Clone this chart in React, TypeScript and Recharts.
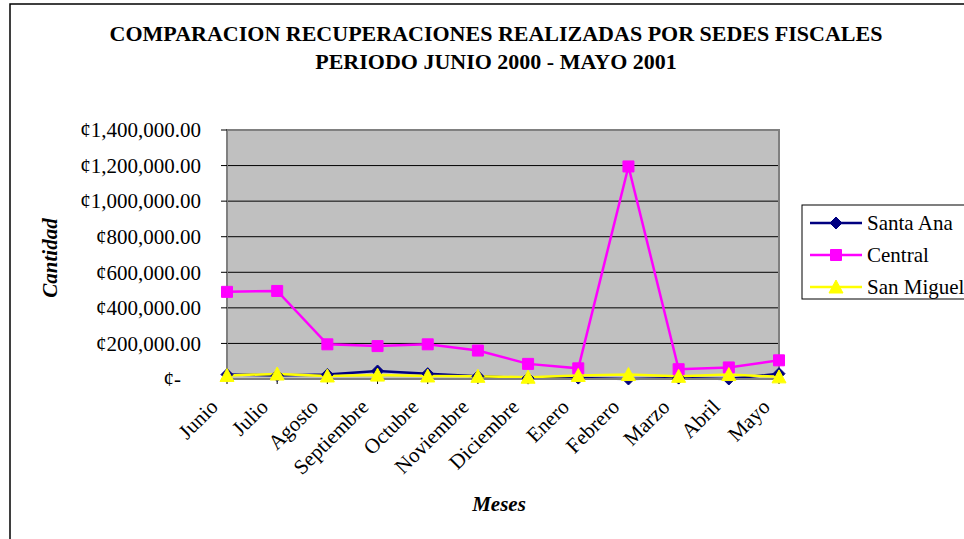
import React from 'react';
import { LineChart, Line, XAxis, YAxis, CartesianGrid, ReferenceArea } from 'recharts';

const meses = ['Junio', 'Julio', 'Agosto', 'Septiembre', 'Octubre', 'Noviembre', 'Diciembre', 'Enero', 'Febrero', 'Marzo', 'Abril', 'Mayo'];
const santaAna = [25000, 20000, 25000, 45000, 30000, 15000, 5000, 5000, 0, 5000, 0, 30000];
const central = [490000, 495000, 195000, 185000, 195000, 160000, 85000, 60000, 1195000, 55000, 65000, 105000];
const sanMiguel = [20000, 28000, 17000, 22000, 17000, 15000, 10000, 20000, 25000, 15000, 25000, 12000];
const yTicks = [0, 200000, 400000, 600000, 800000, 1000000, 1200000, 1400000];

const titleLines = ['COMPARACION RECUPERACIONES REALIZADAS POR SEDES FISCALES', 'PERIODO JUNIO 2000 - MAYO 2001'];

const data = meses.map((m, i) => ({ mes: m, santaAna: santaAna[i], central: central[i], sanMiguel: sanMiguel[i] }));

const FONT = '"Liberation Serif", "Times New Roman", Times, serif';

type Shape = 'diamond' | 'square' | 'triangle';
const series: { key: string; name: string; color: string; shape: Shape }[] = [
  { key: 'santaAna', name: 'Santa Ana', color: '#000080', shape: 'diamond' },
  { key: 'central', name: 'Central', color: '#FF00FF', shape: 'square' },
  { key: 'sanMiguel', name: 'San Miguel', color: '#FFFF00', shape: 'triangle' },
];

function markerPath(shape: Shape, cx: number, cy: number): string {
  if (shape === 'diamond') return `M${cx},${cy - 6}L${cx + 6},${cy}L${cx},${cy + 6}L${cx - 6},${cy}Z`;
  if (shape === 'square') return `M${cx - 5.5},${cy - 5.5}h11v11h-11Z`;
  return `M${cx},${cy - 7}L${cx + 7},${cy + 6}L${cx - 7},${cy + 6}Z`;
}

const makeDot = (shape: Shape, color: string) => (props: any) => {
  const { cx, cy, index } = props;
  if (cx == null || cy == null) return <g key={`d-${index}`} />;
  return <path key={`d-${shape}-${index}`} d={markerPath(shape, cx, cy)} fill={color} stroke={color} strokeWidth={1} />;
};

const fmt = (v: number) => {
  if (v === 0) return '¢-';
  return '¢' + v.toLocaleString('en-US', { minimumFractionDigits: 2, maximumFractionDigits: 2 });
};

const YTick = (props: any) => {
  const { x, y, payload } = props;
  const v = payload.value as number;
  return (
    <text x={v === 0 ? x - 38 : x - 18} y={y} dy="0.35em" textAnchor="end" fontFamily={FONT} fontSize={21} fill="#000">
      {fmt(v)}
    </text>
  );
};

const XTick = (props: any) => {
  const { x, y, payload } = props;
  const ax = x - 13;
  const ay = y + 17;
  return (
    <text x={ax} y={ay} dy="0.35em" textAnchor="end" transform={`rotate(-45, ${ax}, ${ay})`} fontFamily={FONT} fontSize={21} fill="#000">
      {payload.value}
    </text>
  );
};

export default function App() {
  return (
    <div style={{ position: 'absolute', left: 0, top: 0, width: 964, height: 539, background: '#fff', overflow: 'hidden' }}>
      <LineChart width={964} height={539} data={data} margin={{ top: 130, right: 185, bottom: 0, left: 0 }}>
        <CartesianGrid vertical={false} stroke="#000" strokeWidth={1} fill="#C0C0C0" fillOpacity={1} />
        <ReferenceArea x1="Junio" x2="Mayo" y1={0} y2={1400000} fill="none" stroke="#808080" strokeWidth={2} ifOverflow="visible" />
        <XAxis
          dataKey="mes"
          scale="point"
          padding={{ left: 0, right: 0 }}
          height={160}
          interval={0}
          tickSize={5}
          tickLine={{ stroke: '#000' }}
          axisLine={{ stroke: '#808080', strokeWidth: 2 }}
          tick={<XTick />}
        />
        <YAxis
          width={227}
          domain={[0, 1400000]}
          ticks={yTicks}
          interval={0}
          tickSize={6}
          tickLine={{ stroke: '#000' }}
          axisLine={{ stroke: '#808080', strokeWidth: 2 }}
          tick={<YTick />}
        />
        {series.map((s) => (
          <Line
            key={s.key}
            type="linear"
            dataKey={s.key}
            name={s.name}
            stroke={s.color}
            strokeWidth={2.5}
            dot={makeDot(s.shape, s.color)}
            activeDot={false}
            isAnimationActive={false}
          />
        ))}
      </LineChart>
      <svg width={964} height={539} style={{ position: 'absolute', left: 0, top: 0, pointerEvents: 'none' }}>
        <rect x={10} y={4} width={1000} height={600} fill="none" stroke="#000" strokeWidth={1.5} />
        {titleLines.map((t, i) => (
          <text key={t} x={496} y={33 + i * 28} dy="0.35em" textAnchor="middle" fontFamily={FONT} fontSize={22} fontWeight="bold" fill="#000">
            {t}
          </text>
        ))}
        <text x={50} y={258} dy="0.35em" textAnchor="middle" transform="rotate(-90, 50, 258)" fontFamily={FONT} fontSize={21} fontWeight="bold" fontStyle="italic" fill="#000">
          Cantidad
        </text>
        <text x={499} y={504} dy="0.35em" textAnchor="middle" fontFamily={FONT} fontSize={21} fontWeight="bold" fontStyle="italic" fill="#000">
          Meses
        </text>
        <rect x={802} y={205} width={170} height={94} fill="#fff" stroke="#000" strokeWidth={1} />
        {series.map((s, i) => {
          const cy = 223 + i * 32;
          return (
            <g key={s.key}>
              <line x1={810} x2={862} y1={cy} y2={cy} stroke={s.color} strokeWidth={2.5} />
              <path d={markerPath(s.shape, 836, cy)} fill={s.color} stroke={s.color} />
              <text x={867} y={cy} dy="0.35em" fontFamily={FONT} fontSize={21} fill="#000">
                {s.name}
              </text>
            </g>
          );
        })}
      </svg>
    </div>
  );
}
